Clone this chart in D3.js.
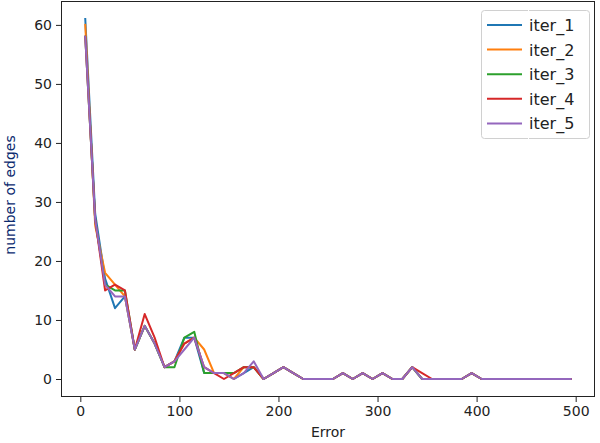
<!DOCTYPE html>
<html><head><meta charset="utf-8">
<script src="https://cdn.jsdelivr.net/npm/d3@7"></script>
<style>body{margin:0;background:#fff}svg{display:block;font-family:"DejaVu Sans",sans-serif}</style>
</head><body>
<svg id="c" width="600" height="443"></svg>
<script>
const errors = [5,15,25,35,45,55,65,75,85,95,105,115,125,135,145,155,165,175,185,195,205,215,225,235,245,255,265,275,285,295,305,315,325,335,345,355,365,375,385,395,405,415,425,435,445,455,465,475,485,495];
const iter_1 = [61,28,17,12,14,5,9,6,2,3,7,7,1,1,1,0,1,2,0,1,2,1,0,0,0,0,1,0,1,0,1,0,0,2,0,0,0,0,0,1,0,0,0,0,0,0,0,0,0,0];
const iter_2 = [60,26,18,16,14,5,9,6,2,3,6,7,5,1,1,0,2,2,0,1,2,1,0,0,0,0,1,0,1,0,1,0,0,2,0,0,0,0,0,1,0,0,0,0,0,0,0,0,0,0];
const iter_3 = [58,27,16,15,15,5,9,6,2,2,7,8,1,1,1,1,2,2,0,1,2,1,0,0,0,0,1,0,1,0,1,0,0,2,0,0,0,0,0,1,0,0,0,0,0,0,0,0,0,0];
const iter_4 = [58,27,15,16,15,5,11,7,2,3,6,7,2,1,0,1,2,2,0,1,2,1,0,0,0,0,1,0,1,0,1,0,0,2,1,0,0,0,0,1,0,0,0,0,0,0,0,0,0,0];
const iter_5 = [58,27,16,14,14,5,9,6,2,3,5,7,2,1,1,0,1,3,0,1,2,1,0,0,0,0,1,0,1,0,1,0,0,2,0,0,0,0,0,1,0,0,0,0,0,0,0,0,0,0];
const seriesNames = ["iter_1","iter_2","iter_3","iter_4","iter_5"];
const seriesColors = ["#1f77b4","#ff7f0e","#2ca02c","#d62728","#9467bd"];
const xTicks = [0,100,200,300,400,500];
const yTicks = [0,10,20,30,40,50,60];

const seriesData = [iter_1, iter_2, iter_3, iter_4, iter_5];
const L = 61, R = 595, T = 1, B = 397;
const svg = d3.select("#c");

const xMin = d3.min(errors), xMax = d3.max(errors);
const xPad = (xMax - xMin) * 0.05;
const yAll = seriesData.flat();
const yMin = d3.min(yAll), yMax = d3.max(yAll);
const yPad = (yMax - yMin) * 0.05;
const x = d3.scaleLinear().domain([xMin - xPad, xMax + xPad]).range([L, R]);
const y = d3.scaleLinear().domain([yMin - yPad, yMax + yPad]).range([B, T]);

// lines
const line = d3.line().x((d, i) => x(errors[i])).y(d => y(d));
seriesData.forEach((s, k) => {
  svg.append("path").datum(s).attr("d", line)
    .attr("fill", "none").attr("stroke", seriesColors[k])
    .attr("stroke-width", 2).attr("stroke-linejoin", "round").attr("stroke-linecap", "square");
});

// axes
const xAxis = svg.append("g").attr("transform", `translate(0,${B})`)
  .call(d3.axisBottom(x).tickValues(xTicks).tickSize(5).tickPadding(4).tickFormat(d3.format("d")));
const yAxis = svg.append("g").attr("transform", `translate(${L},0)`)
  .call(d3.axisLeft(y).tickValues(yTicks).tickSize(5).tickPadding(4).tickFormat(d3.format("d")));
[xAxis, yAxis].forEach(g => {
  g.select(".domain").remove();
  g.selectAll("line").attr("stroke", "#222").attr("stroke-width", 1);
  g.selectAll("text").attr("font-family", "DejaVu Sans").attr("font-size", 14).attr("fill", "#222");
});

// frame (spines)
svg.append("rect").attr("x", L + 0.5).attr("y", T + 0.5).attr("width", R - L - 1).attr("height", B - T - 1)
  .attr("fill", "none").attr("stroke", "#222").attr("stroke-width", 1);

// axis labels
svg.append("text").attr("x", (L + R) / 2).attr("y", 437).attr("text-anchor", "middle")
  .attr("font-size", 14).attr("fill", "#222").text("Error");
svg.append("text").attr("transform", `translate(15,${(T + B) / 2 - 4}) rotate(-90)`)
  .attr("text-anchor", "middle").attr("font-size", 14).attr("fill", "#0a2a6e").text("number of edges");

// legend
const lg = svg.append("g");
lg.append("rect").attr("x", 481.5).attr("y", 10.5).attr("width", 108).attr("height", 128).attr("rx", 3)
  .attr("fill", "rgba(255,255,255,0.8)").attr("stroke", "#d0d0d0").attr("stroke-width", 1);
seriesNames.forEach((n, k) => {
  const cy = 25 + k * 24.6;
  lg.append("line").attr("x1", 487).attr("x2", 522).attr("y1", cy).attr("y2", cy)
    .attr("stroke", seriesColors[k]).attr("stroke-width", 2);
  lg.append("text").attr("x", 529).attr("y", cy + 6).attr("font-size", 16).attr("fill", "#222").text(n);
});
lg.append("line").attr("x1", 528.5).attr("x2", 528.5).attr("y1", 8).attr("y2", 142)
  .attr("stroke", "#fff").attr("stroke-width", 1);
</script>
</body></html>
